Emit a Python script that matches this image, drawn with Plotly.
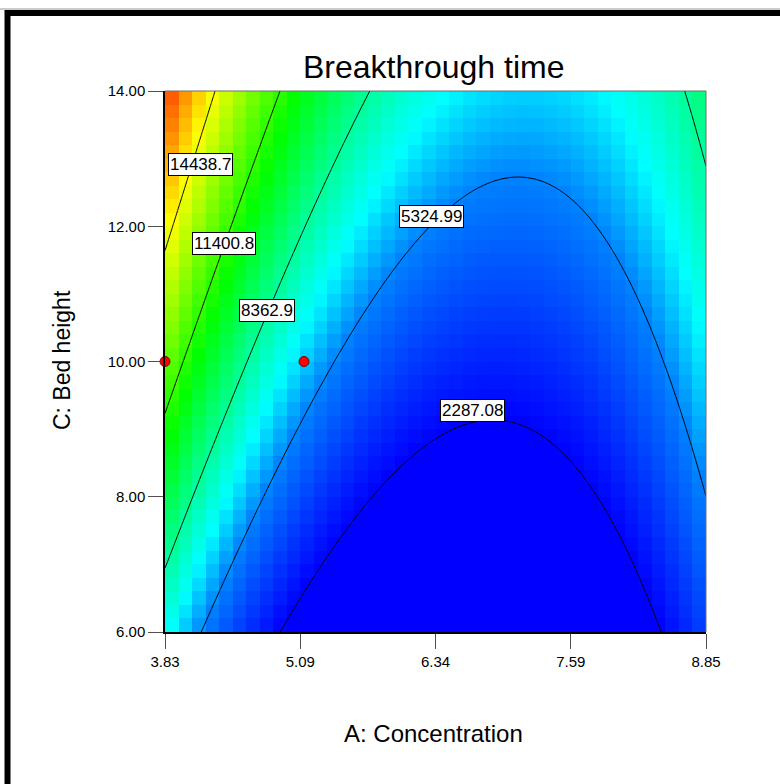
import numpy as np
import plotly.graph_objects as go

# Factor ranges (A: Concentration, C: Bed height)
a_low, a_high = 3.83, 8.85
c_low, c_high = 6.0, 14.0

# Fitted quadratic model in coded units for breakthrough time
coef_b0 = 3397.0
coef_a = -2871.0
coef_c = 3818.0
coef_ac = -1279.0
coef_aa = 6120.0
coef_cc = -222.0

# Contour levels and where their labels sit
contour_levels = [2287.08, 5324.99, 8362.9, 11400.8, 14438.7]
label_text = ["2287.08", "5324.99", "8362.9", "11400.8", "14438.7"]
label_a = [6.679, 6.307, 4.776, 4.377, 4.155]
label_c = [9.27, 12.15, 10.75, 11.75, 12.92]

# Design points shown on the slice
design_a = [3.83, 5.12]
design_c = [10.0, 10.0]

x_ticks = [3.83, 5.085, 6.34, 7.595, 8.85]
x_tick_text = ["3.83", "5.09", "6.34", "7.59", "8.85"]
y_ticks = [6, 8, 10, 12, 14]
y_tick_text = ["6.00", "8.00", "10.00", "12.00", "14.00"]


def response(A, C):
    a = (A - (a_low + a_high) / 2) / ((a_high - a_low) / 2)
    c = (C - (c_low + c_high) / 2) / ((c_high - c_low) / 2)
    return (coef_b0 + coef_a * a + coef_c * c + coef_ac * a * c
            + coef_aa * a * a + coef_cc * c * c)


# Coarse cell grid for the colour map
n_cells = 40
ax = a_low + (np.arange(n_cells) + 0.5) * (a_high - a_low) / n_cells
cy = c_low + (np.arange(n_cells) + 0.5) * (c_high - c_low) / n_cells
AA, CC = np.meshgrid(ax, cy)
Z = response(AA, CC)

# Fine grid for smooth contour lines
fx = np.linspace(a_low, a_high, 301)
fy = np.linspace(c_low, c_high, 301)
FA, FC = np.meshgrid(fx, fy)
FZ = response(FA, FC)

zmin, zmax = 2287.08, 18000.0


def frac(v):
    return (v - zmin) / (zmax - zmin)


colorscale = [
    [0.0, "rgb(0,0,255)"],
    [frac(5325), "rgb(0,130,255)"],
    [frac(6800), "rgb(0,255,255)"],
    [frac(10700), "rgb(0,255,0)"],
    [frac(14600), "rgb(255,255,0)"],
    [1.0, "rgb(255,0,0)"],
]

fig = go.Figure()
fig.add_trace(go.Heatmap(
    x=ax, y=cy, z=Z, zmin=zmin, zmax=zmax, colorscale=colorscale,
    zsmooth=False, showscale=False, hoverinfo="skip",
))
fig.add_trace(go.Contour(
    x=fx, y=fy, z=FZ,
    contours=dict(start=contour_levels[0], end=contour_levels[-1],
                  size=(contour_levels[-1] - contour_levels[0]) / 4,
                  coloring="none"),
    line=dict(color="black", width=1),
    showscale=False, hoverinfo="skip",
))
fig.add_trace(go.Scatter(
    x=design_a, y=design_c, mode="markers", cliponaxis=False,
    marker=dict(size=10, color="rgb(255,0,0)",
                line=dict(color="rgb(120,0,0)", width=1)),
    hoverinfo="skip",
))

font_family = "Liberation Sans, Arial, sans-serif"
for t, xa, yc in zip(label_text, label_a, label_c):
    fig.add_annotation(x=xa, y=yc, text=t, showarrow=False,
                       font=dict(family=font_family, size=17, color="black"),
                       bgcolor="white", bordercolor="black", borderwidth=1,
                       borderpad=1)

fig.add_annotation(xref="paper", yref="paper", x=0.497, y=1.044,
                   text="Breakthrough time", showarrow=False,
                   font=dict(family=font_family, size=32, color="black"),
                   xanchor="center", yanchor="middle")
fig.add_annotation(xref="paper", yref="paper", x=0.497, y=-0.1885,
                   text="A: Concentration", showarrow=False,
                   font=dict(family=font_family, size=24, color="black"),
                   xanchor="center", yanchor="middle")
fig.add_annotation(xref="paper", yref="paper", x=-0.190, y=0.503,
                   text="C: Bed height", showarrow=False, textangle=-90,
                   font=dict(family=font_family, size=23, color="black"),
                   xanchor="center", yanchor="middle")

# Outer frame and the grey top/right edges of the plot box
fig.add_shape(type="line", xref="paper", yref="paper",
              x0=-0.31, x1=1.2, y0=(632 - 9) / 541, y1=(632 - 9) / 541,
              line=dict(color="rgb(150,150,150)", width=1))
fig.add_shape(type="rect", xref="paper", yref="paper",
              x0=(7.5 - 165) / 541, x1=1.2, y0=-0.4, y1=(632 - 13) / 541,
              line=dict(color="black", width=6))
fig.add_shape(type="line", xref="paper", yref="paper",
              x0=0, x1=1, y0=1, y1=1,
              line=dict(color="rgb(110,110,110)", width=1))
fig.add_shape(type="line", xref="paper", yref="paper",
              x0=1, x1=1, y0=0, y1=1,
              line=dict(color="rgb(110,110,110)", width=1))

axis_common = dict(
    showgrid=False, zeroline=False, showline=True, linecolor="black",
    linewidth=1.5, ticks="outside", ticklen=15, tickwidth=1,
    tickcolor="rgb(80,80,80)",
    tickfont=dict(family=font_family, size=15, color="black"),
)
fig.update_xaxes(range=[a_low, a_high], tickvals=x_ticks,
                 ticktext=x_tick_text, **axis_common)
fig.update_yaxes(range=[c_low, c_high], tickvals=y_ticks,
                 ticktext=y_tick_text, **axis_common)

fig.update_layout(
    width=780, height=784,
    margin=dict(l=165, r=74, t=91, b=152),
    paper_bgcolor="white", plot_bgcolor="white",
    showlegend=False,
)

fig.write_html("out.html")
